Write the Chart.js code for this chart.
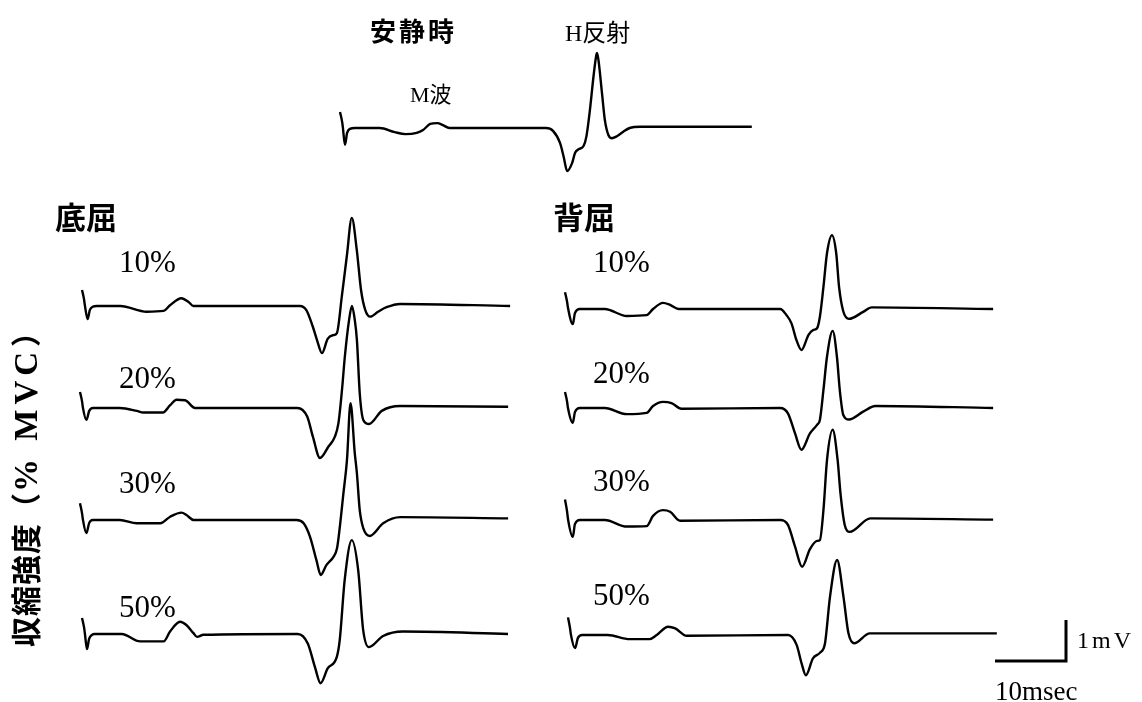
<!DOCTYPE html>
<html lang="ja">
<head>
<meta charset="utf-8">
<title>H反射と収縮強度</title>
<script src="https://cdn.jsdelivr.net/npm/chart.js@4.4.1/dist/chart.umd.min.js"></script>
<style>
  html, body { margin: 0; padding: 0; background: #fff; }
  #stage { position: relative; width: 1142px; height: 702px; overflow: hidden; }
  #plot { position: absolute; left: 0; top: 0; }
  .lbl { position: absolute; white-space: nowrap; line-height: 1; color: #000; }
  .serif { font-family: "Liberation Serif", "DejaVu Serif", serif; }
  .goth { font-family: "Noto Sans CJK JP", "Noto Sans CJK SC", sans-serif; }
</style>
</head>
<body>
<div id="stage"><canvas id="plot" width="1142" height="702"></canvas></div>
<script>
// ---- EMG traces: [time after stimulus (ms), amplitude (mV)] ----
const REST = [[0,0.39],[0.3,0.15],[0.4,0.02],[0.7,-0.41],[1.0,-0.12],[1.4,-0.02],[2.1,0],[5.6,0],[7.7,-0.10],[9.2,-0.15],[10.8,-0.12],[11.7,-0.05],[12.7,0.10],[13.7,0.12],[14.5,0.07],[15.4,0],[29.0,0],[30.0,-0.07],[31.0,-0.37],[31.5,-0.70],[32.0,-1.05],[32.7,-0.85],[33.1,-0.61],[33.6,-0.52],[34.3,-0.44],[34.7,-0.21],[35.2,0.44],[35.7,1.25],[36.1,1.78],[36.2,1.83],[36.4,1.66],[36.9,0.85],[37.3,0.20],[37.8,-0.17],[38.3,-0.25],[39.0,-0.20],[39.9,-0.09],[40.8,0],[42.3,0.03],[58.0,0.03]];

// 底屈 (plantar flexion) at 10/20/30/50 %MVC
const PF10 = [[0,0.39],[0.3,0.15],[0.4,0.02],[0.8,-0.32],[1.1,-0.10],[1.5,-0.02],[2.1,0],[5.4,0],[9.1,-0.14],[11.5,-0.12],[12.4,0.02],[14.0,0.19],[15.0,0.10],[15.7,0],[30.7,0],[31.6,-0.10],[32.5,-0.50],[33.1,-0.83],[33.8,-1.15],[34.6,-0.80],[35.4,-0.71],[35.9,-0.66],[36.6,0.24],[37.3,1.22],[38.0,2.15],[38.7,1.37],[39.3,0.39],[39.9,-0.10],[40.6,-0.26],[41.7,-0.14],[42.9,-0.03],[44.8,0.05],[60.3,0]];
const PF20 = [[0,0.39],[0.3,0.15],[0.4,0.02],[0.9,-0.29],[1.3,-0.07],[1.8,0],[5.6,0],[8.0,-0.07],[8.9,-0.11],[11.7,-0.11],[12.7,0.07],[13.6,0.20],[14.8,0.19],[16.2,0],[30.6,0],[32.0,-0.21],[32.8,-0.70],[33.8,-1.22],[35.0,-0.94],[35.9,-0.70],[36.4,-0.37],[36.9,0.44],[37.3,1.25],[37.9,2.15],[38.3,2.49],[38.7,2.15],[39.0,1.66],[39.4,0.36],[39.9,-0.29],[40.7,-0.39],[42.5,-0.07],[45.1,0.05],[60.3,0.03]];
const PF30 = [[0,0.41],[0.3,0.15],[0.4,0.02],[0.9,-0.32],[1.3,-0.07],[1.8,0],[5.6,0],[8.0,-0.08],[11.3,-0.08],[12.7,0.08],[14.3,0.18],[15.0,0.12],[16.0,0],[30.5,0],[31.5,-0.08],[32.4,-0.41],[33.3,-0.98],[33.9,-1.34],[34.7,-1.10],[35.7,-0.90],[36.2,-0.69],[36.6,-0.16],[37.1,0.65],[37.6,1.46],[38.1,2.85],[38.7,1.63],[39.0,1.14],[39.4,0.24],[39.9,-0.20],[40.8,-0.39],[42.7,-0.08],[45.1,0.07],[60.3,0.04]];
const PF50 = [[0,0.39],[0.3,0.15],[0.4,0.02],[0.7,-0.37],[1.0,-0.12],[1.4,-0.02],[1.8,0],[5.6,0],[8.2,-0.18],[11.5,-0.18],[12.4,0.06],[13.8,0.30],[14.7,0.22],[15.7,0.02],[16.2,-0.07],[17.1,-0.02],[30.4,0],[31.8,-0.23],[32.8,-0.80],[33.6,-1.20],[34.6,-0.84],[35.9,-0.55],[36.3,-0.15],[37.0,1.32],[38.0,2.29],[38.9,1.56],[39.6,0.10],[40.4,-0.32],[42.4,-0.05],[45.2,0.06],[60.0,0]];

// 背屈 (dorsiflexion) at 10/20/30/50 %MVC
const DF10 = [[0,0.41],[0.3,0.17],[0.4,0.05],[1.1,-0.37],[1.4,-0.10],[2.1,0],[5.6,0],[8.7,-0.17],[11.5,-0.15],[12.4,0],[13.8,0.15],[14.8,0.10],[16.0,0],[30.3,0],[31.2,-0.15],[31.9,-0.35],[32.6,-0.76],[33.3,-1.00],[34.3,-0.63],[35.0,-0.51],[35.5,-0.47],[35.9,-0.19],[36.4,0.54],[36.9,1.36],[37.6,1.80],[38.2,1.36],[38.6,0.54],[39.2,-0.06],[40.0,-0.24],[42.0,-0.07],[43.2,0.04],[60.3,0]];
const DF20 = [[0,0.39],[0.3,0.15],[0.4,0.02],[1.1,-0.36],[1.4,-0.10],[2.1,0],[5.6,0],[8.7,-0.15],[11.5,-0.12],[12.4,0.05],[13.8,0.15],[15.0,0.12],[16.4,-0.02],[30.3,0],[31.4,-0.13],[32.4,-0.62],[33.3,-1.02],[34.5,-0.62],[35.5,-0.41],[35.9,-0.29],[36.4,0.44],[36.9,1.25],[37.7,1.88],[38.3,1.25],[38.7,0.44],[39.2,-0.17],[40.0,-0.28],[42.0,-0.09],[43.7,0.05],[60.3,0]];
const DF30 = [[0,0.50],[0.3,0.20],[0.4,0.05],[1.1,-0.41],[1.4,-0.10],[2.1,0],[5.6,0],[8.7,-0.16],[11.5,-0.15],[12.4,0.10],[13.8,0.24],[14.8,0.20],[16.2,-0.02],[30.3,0],[31.4,-0.12],[32.4,-0.65],[33.4,-1.14],[34.5,-0.71],[35.5,-0.51],[35.9,-0.49],[36.4,0.24],[36.9,1.46],[37.7,2.20],[38.4,1.46],[38.8,0.65],[39.4,-0.12],[40.1,-0.29],[43.0,0.04],[60.3,0.01]];
const DF50 = [[0,0.43],[0.3,0.15],[0.4,0.02],[1.0,-0.32],[1.4,-0.07],[2.0,0],[5.6,0],[8.7,-0.10],[11.5,-0.10],[12.5,0],[14.1,0.20],[15.1,0.16],[16.7,-0.02],[31.0,0],[32.2,-0.24],[32.9,-0.69],[33.5,-0.98],[34.5,-0.57],[35.5,-0.43],[36.2,-0.20],[36.9,0.93],[37.9,1.83],[38.8,0.93],[39.5,0.04],[40.3,-0.20],[42.5,0.04],[60.4,0.04]];

// ---- text ----
const LEVELS = ['10%', '20%', '30%', '50%'];
const GROUPS = ['底屈', '背屈'];
const REST_TITLE = '安静時';
const M_WAVE = ['M', '波'];
const H_REFLEX = ['H', '反射'];
const Y_TITLE = ['収縮強度', '（', '% MVC', '）'];

// ---- calibration bar ----
const BAR_MS = 10;
const BAR_MV = 1;
const BAR_LABELS = ['1mV', '10msec'];

// ---- page geometry ----
const W = 1142, H = 702;
const PX_PER_MS = 7.1;   // horizontal sweep speed
const PX_PER_MV = 41;    // vertical gain

// left edge and baseline of every sweep on the page (px)
const SWEEPS = [
  { trace: REST, left: 340, base: 128 },
  { trace: PF10, left: 82,  base: 306 },
  { trace: PF20, left: 80,  base: 408 },
  { trace: PF30, left: 80,  base: 520 },
  { trace: PF50, left: 82,  base: 634 },
  { trace: DF10, left: 565, base: 309 },
  { trace: DF20, left: 565, base: 408 },
  { trace: DF30, left: 565, base: 520 },
  { trace: DF50, left: 568, base: 635 }
];
const BAR_CORNER = { x: 1066, y: 661 };

const toT = px => px / PX_PER_MS;
const toV = px => -px / PX_PER_MV;

const datasets = SWEEPS.map(s => ({
  data: s.trace.map(([t, v]) => ({ x: toT(s.left) + t, y: toV(s.base) + v })),
  borderColor: '#000',
  borderWidth: 2.4,
  pointRadius: 0,
  fill: false,
  cubicInterpolationMode: 'monotone'
}));

const cx = toT(BAR_CORNER.x), cy = toV(BAR_CORNER.y);
datasets.push({
  data: [{ x: cx - BAR_MS, y: cy }, { x: cx, y: cy }, { x: cx, y: cy + BAR_MV }],
  borderColor: '#000',
  borderWidth: 3,
  pointRadius: 0,
  fill: false,
  tension: 0,
  borderJoinStyle: 'miter',
  borderCapStyle: 'butt'
});

new Chart(document.getElementById('plot'), {
  type: 'line',
  data: { datasets },
  options: {
    responsive: false,
    animation: false,
    devicePixelRatio: 1,
    events: [],
    layout: { padding: 0 },
    plugins: { legend: { display: false }, tooltip: { enabled: false }, title: { display: false } },
    scales: {
      x: { type: 'linear', min: 0, max: W / PX_PER_MS, display: false },
      y: { type: 'linear', min: -H / PX_PER_MV, max: 0, display: false }
    }
  }
});

// ---- labels, placed by their text baseline ----
const stage = document.getElementById('stage');

// parts: [text, class, extra inline style]
function makeLabel(parts, size, weight, spacing) {
  const el = document.createElement('div');
  el.className = 'lbl';
  el.style.fontSize = size + 'px';
  el.style.fontWeight = weight;
  if (spacing) el.style.letterSpacing = spacing + 'px';
  parts.forEach(([txt, cls, css]) => {
    const sp = document.createElement('span');
    sp.className = cls;
    if (css) sp.style.cssText = css;
    sp.textContent = txt;
    el.appendChild(sp);
  });
  const mark = document.createElement('span');
  mark.style.cssText = 'display:inline-block;width:0;height:0;';
  el.appendChild(mark);
  el.style.left = '0px';
  el.style.top = '0px';
  stage.appendChild(el);
  return { el, mark };
}
function baselineOf(l) {
  return l.mark.getBoundingClientRect().top - l.el.getBoundingClientRect().top;
}
function place(parts, size, weight, x, base, spacing) {
  const l = makeLabel(parts, size, weight, spacing);
  l.el.style.left = x + 'px';
  l.el.style.top = (base - baselineOf(l)) + 'px';
}

function drawLabels() {
  place([[REST_TITLE, 'goth']], 26, 700, 370, 41, 3);
  place([[H_REFLEX[0], 'serif'], [H_REFLEX[1], 'goth']], 24, 400, 565, 41);
  place([[M_WAVE[0], 'serif'], [M_WAVE[1], 'goth']], 22, 400, 410, 102);

  place([[GROUPS[0], 'goth']], 31, 700, 55, 229);
  place([[GROUPS[1], 'goth']], 31, 700, 553, 229);

  const leftBase = [272, 388, 493, 617];
  const rightBase = [272, 383, 491, 605];
  LEVELS.forEach((t, i) => {
    place([[t, 'serif']], 31, 400, 119, leftBase[i]);
    place([[t, 'serif']], 31, 400, 593, rightBase[i]);
  });

  place([[BAR_LABELS[0], 'serif']], 24, 400, 1077, 648, 3);
  place([[BAR_LABELS[1], 'serif']], 27, 400, 995, 700);

  // rotated y title, reading bottom to top
  const y = makeLabel([
    [Y_TITLE[0], 'goth'],
    [Y_TITLE[1], 'goth'],
    [Y_TITLE[2], 'serif', 'font-size:33px;letter-spacing:5px;'],
    [Y_TITLE[3], 'goth']
  ], 30, 700, 1);
  const b = baselineOf(y);
  y.el.style.transformOrigin = '0 0';
  y.el.style.transform = 'rotate(-90deg)';
  y.el.style.left = (37 - b) + 'px';
  y.el.style.top = '647px';
}

if (document.fonts && document.fonts.ready) {
  document.fonts.ready.then(drawLabels);
} else {
  drawLabels();
}
</script>
</body>
</html>
